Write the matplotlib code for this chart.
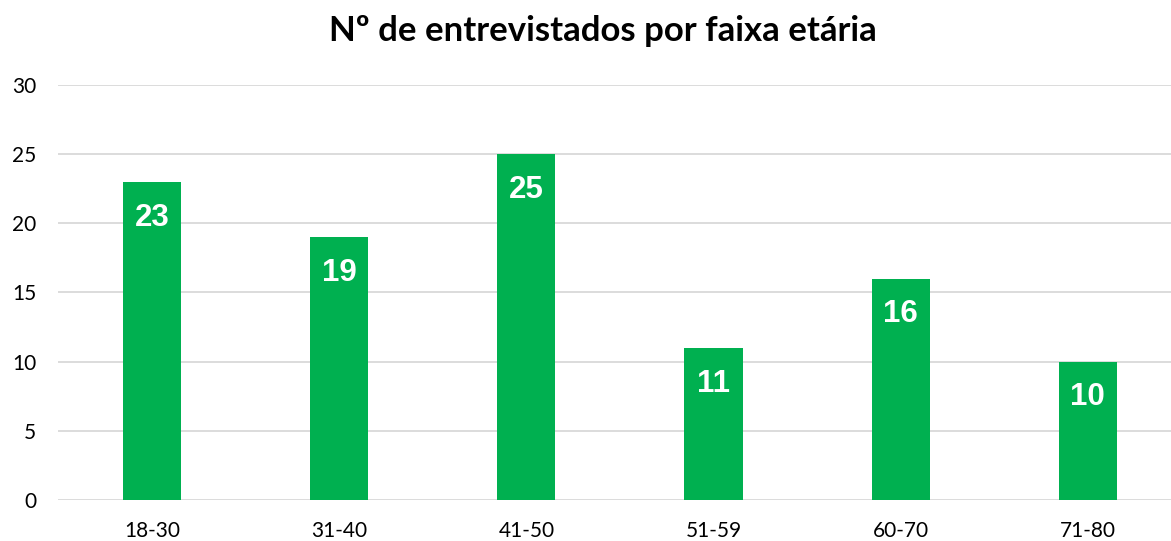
import matplotlib.pyplot as plt
import numpy as np

faixas = ['18-30', '31-40', '41-50', '51-59', '60-70', '71-80']
entrevistados = [23, 19, 25, 11, 16, 10]

verde = '#00B050'

plt.rcParams['font.family'] = ['Lato', 'DejaVu Sans']

fig = plt.figure(figsize=(11.71, 5.41), dpi=100)
ax = fig.add_axes([0.0499, 0.0758, 0.959, 0.7672])

x_pos = np.arange(len(faixas))
bars = ax.bar(x_pos, entrevistados, width=0.31, color=verde, zorder=2)

# rotulos brancos dentro das barras
for b, v in zip(bars, entrevistados):
    ax.annotate(str(v), xy=(b.get_x() + b.get_width() / 2, v),
                xytext=(0, -15), textcoords='offset points',
                ha='center', va='top', color='white', fontsize=22.5,
                fontweight='bold', family='Liberation Sans')

ax.set_xlim(-0.5, len(faixas) - 0.5)
ax.set_ylim(0, 30)
ax.set_yticks(range(0, 31, 5))
ax.set_xticks(x_pos)
ax.set_xticklabels(faixas)
ax.yaxis.grid(True, color='#d9d9d9', linewidth=1.3, zorder=0)
ax.set_axisbelow(True)
ax.tick_params(axis='both', length=0, labelsize=15, colors='black')
ax.tick_params(axis='y', pad=16)
ax.tick_params(axis='x', pad=15)
for s in ax.spines.values():
    s.set_visible(False)

fig.text(0.515, 0.943, 'Nº de entrevistados por faixa etária', ha='center',
         va='center', fontsize=25, fontweight='bold')

fig.savefig('out.png', dpi=100)
